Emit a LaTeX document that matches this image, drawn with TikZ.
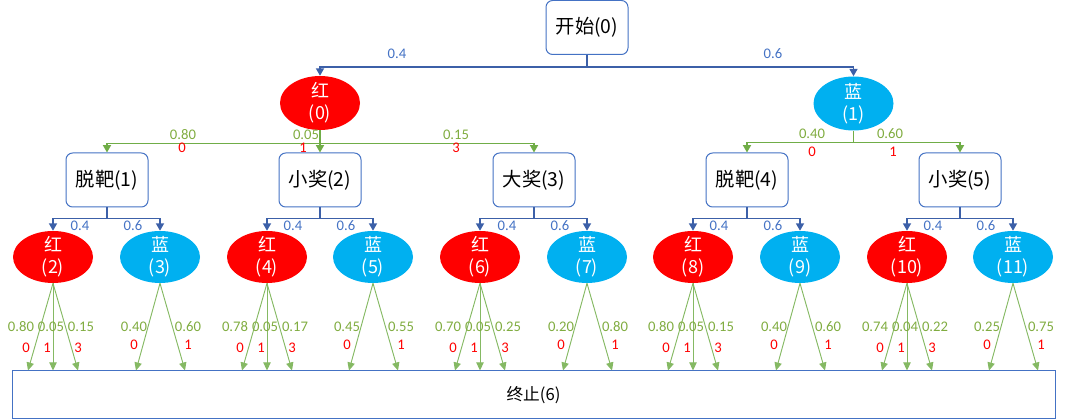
\documentclass[tikz,border=0pt]{standalone}
\usepackage{fontspec}
\setmainfont{Carlito}
\newfontfamily\cjk{Noto Sans CJK SC}
\usetikzlibrary{shapes.geometric,arrows.meta}
\definecolor{boxblue}{RGB}{68,114,196}
\definecolor{lineblue}{RGB}{60,96,168}
\definecolor{ballred}{RGB}{255,0,0}
\definecolor{ballblue}{RGB}{0,176,240}
\definecolor{linegreen}{RGB}{112,173,71}
\definecolor{probgreen}{RGB}{128,172,64}
\tikzset{
	state/.style={draw=boxblue,line width=0.75pt,rounded corners=5pt,fill=white,minimum width=61.5pt,minimum height=40.5pt,inner sep=0pt,font=\cjk\fontsize{14.5}{17}\selectfont},
	ball/.style={ellipse,inner xsep=0pt,inner ysep=-5pt,minimum width=60pt,minimum height=40.5pt,text=white,align=center,font=\cjk\fontsize{13.5}{16.5}\selectfont},
	leaf/.style={ball,minimum height=39pt},
	redball/.style={fill=ballred},
	blueball/.style={fill=ballblue},
	bluearrow/.style={draw=lineblue,line width=1.1pt,-{Triangle[width=6pt,length=5.5pt]}},
	greenarrow/.style={draw=linegreen,line width=1.1pt,-{Triangle[width=6pt,length=5.5pt]}},
	leafarrow/.style={draw=linegreen!85,line width=0.7pt,-{Triangle[width=5.5pt,length=6pt]}},
	blab/.style={text=boxblue,inner sep=0pt,font=\fontsize{11}{13}\selectfont},
	glab/.style={text=probgreen,inner sep=0pt,font=\fontsize{11}{13}\selectfont},
	rlab/.style={text=ballred,inner sep=0pt,font=\fontsize{11}{13}\selectfont}
}
\newcommand{\redleaf}[5]{%
	\node[leaf,redball] (l#1) at (#2,257) {红\\(#1)};
	\draw[leafarrow] (l#1.south) -- ([xshift=-18.75pt]l#1.south |- term.north);
	\draw[leafarrow] (l#1.south) -- (l#1.south |- term.north);
	\draw[leafarrow] (l#1.south) -- ([xshift=18.75pt]l#1.south |- term.north);
	\node[glab] (pa#1) at (#2-32,327) {#3};
	\node[glab] (pb#1) at (#2-2,327) {#4};
	\node[glab] (pc#1) at (#2+28,327) {#5};
	\node[rlab] (ra#1) at (#2-27,348) {0};
	\node[rlab] (rb#1) at (#2-6,348) {1};
	\node[rlab] (rc#1) at (#2+25,348) {3};
}
\newcommand{\blueleaf}[4]{%
	\node[leaf,blueball] (l#1) at (#2,257) {蓝\\(#1)};
	\draw[leafarrow] (l#1.south) -- ([xshift=-18pt]l#1.south |- term.north);
	\draw[leafarrow] (l#1.south) -- ([xshift=18.75pt]l#1.south |- term.north);
	\node[glab] (pa#1) at (#2-26,327) {#3};
	\node[glab] (pb#1) at (#2+28,327) {#4};
	\node[rlab] (ra#1) at (#2-26,345) {0};
	\node[rlab] (rb#1) at (#2+28,345) {1};
}

\begin{document}
\begin{tikzpicture}[x=0.75pt,y=-0.75pt]
	\useasboundingbox (0,0) rectangle (1065,420);
	\node[state] (start) at (587,27.5) {开始(0)};
	\node[ball,redball] (r0) at (320,103) {红\\(0)};
	\node[ball,blueball] (b1) at (853.5,103.5) {蓝\\(1)};
	\node[state] (s1) at (107,180) {脱靶(1)};
	\node[state] (s2) at (320,180) {小奖(2)};
	\node[state] (s3) at (534,180) {大奖(3)};
	\node[state] (s4) at (747,180) {脱靶(4)};
	\node[state] (s5) at (960,180) {小奖(5)};
	\node[draw=boxblue,line width=0.75pt,minimum width=782.25pt,minimum height=36pt,font=\cjk\fontsize{12.5}{15}\selectfont] (term) at (533.5,395) {终止(6)};

	\draw[bluearrow] (start.south) -- ++(0,12) -| (r0.north);
	\draw[bluearrow] (start.south) -- ++(0,12) -| (b1.north);
	\node[blab] (t04) at (397,54) {0.4};
	\node[blab] (t06) at (773,54) {0.6};

	\draw[greenarrow] (r0.south) -- ++(0,13) -| (s1.north);
	\draw[greenarrow] (r0.south) -- ++(0,13) -| (s2.north);
	\draw[greenarrow] (r0.south) -- ++(0,13) -| (s3.north);
	\node[glab] (q1) at (183,135) {0.80};
	\node[rlab] (n1) at (182,148) {0};
	\node[glab] (q2) at (306,135) {0.05};
	\node[rlab] (n2) at (303,148) {1};
	\node[glab] (q3) at (456,135) {0.15};
	\node[rlab] (n3) at (456,148) {3};

	\draw[greenarrow] (b1.south) -- ++(0,12) -| (s4.north);
	\draw[greenarrow] (b1.south) -- ++(0,12) -| (s5.north);
	\node[glab] (q4) at (812,134) {0.40};
	\node[rlab] (n4) at (812,152) {0};
	\node[glab] (q5) at (890,134) {0.60};
	\node[rlab] (n5) at (893,152) {1};

	\redleaf{2}{53}{0.80}{0.05}{0.15}
	\blueleaf{3}{160}{0.40}{0.60}
	\redleaf{4}{267}{0.78}{0.05}{0.17}
	\blueleaf{5}{373}{0.45}{0.55}
	\redleaf{6}{480}{0.70}{0.05}{0.25}
	\blueleaf{7}{587}{0.20}{0.80}
	\redleaf{8}{693}{0.80}{0.05}{0.15}
	\blueleaf{9}{800}{0.40}{0.60}
	\redleaf{10}{907}{0.74}{0.04}{0.22}
	\blueleaf{11}{1013}{0.25}{0.75}

	\draw[bluearrow] (s1.south) -- ++(0,11) -| (l2.north);
	\draw[bluearrow] (s1.south) -- ++(0,11) -| (l3.north);
	\draw[bluearrow] (s2.south) -- ++(0,11) -| (l4.north);
	\draw[bluearrow] (s2.south) -- ++(0,11) -| (l5.north);
	\draw[bluearrow] (s3.south) -- ++(0,11) -| (l6.north);
	\draw[bluearrow] (s3.south) -- ++(0,11) -| (l7.north);
	\draw[bluearrow] (s4.south) -- ++(0,11) -| (l8.north);
	\draw[bluearrow] (s4.south) -- ++(0,11) -| (l9.north);
	\draw[bluearrow] (s5.south) -- ++(0,11) -| (l10.north);
	\draw[bluearrow] (s5.south) -- ++(0,11) -| (l11.north);
	\node[blab] (u1) at (80,226) {0.4};
	\node[blab] (v1) at (133,226) {0.6};
	\node[blab] (u2) at (293,226) {0.4};
	\node[blab] (v2) at (346,226) {0.6};
	\node[blab] (u3) at (507,226) {0.4};
	\node[blab] (v3) at (560,226) {0.6};
	\node[blab] (u4) at (719,226) {0.4};
	\node[blab] (v4) at (773,226) {0.6};
	\node[blab] (u5) at (933,226) {0.4};
	\node[blab] (v5) at (986,226) {0.6};
\end{tikzpicture}
\end{document}
